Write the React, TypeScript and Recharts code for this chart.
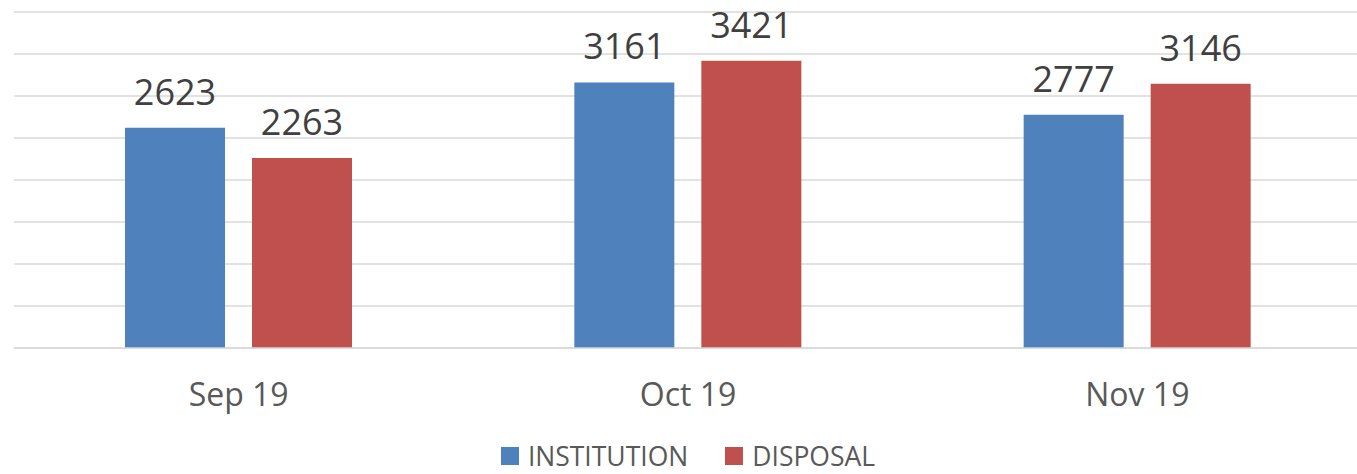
import React from 'react';
import { BarChart, Bar, XAxis, YAxis, CartesianGrid, Legend, LabelList } from 'recharts';

const months = ['Sep 19', 'Oct 19', 'Nov 19'];
const institution = [2623, 3161, 2777];
const disposal = [2263, 3421, 3146];
const yTicks = [0, 500, 1000, 1500, 2000, 2500, 3000, 3500, 4000];
const seriesOrder = ['INSTITUTION', 'DISPOSAL'];

const COLORS = { institution: '#4f81bd', disposal: '#c0504d' };
const FONT = '"Open Sans", sans-serif';

const data = months.map((month, i) => ({
  month,
  INSTITUTION: institution[i],
  DISPOSAL: disposal[i],
}));

const renderLegend = (props: any) => {
  const payload = [...(props.payload || [])].sort(
    (a: any, b: any) => seriesOrder.indexOf(a.value) - seriesOrder.indexOf(b.value)
  );
  return (
    <div style={{ display: 'flex', justifyContent: 'center', alignItems: 'center', fontFamily: FONT, marginTop: 5 }}>
      {payload.map((entry: any, index: number) => (
        <div key={`item-${index}`} style={{ display: 'flex', alignItems: 'center', marginRight: index === 0 ? 37 : 0 }}>
          <span style={{ width: 18, height: 18, background: entry.color, display: 'inline-block', marginRight: 9 }} />
          <span style={{ fontSize: 26.5, color: '#595959', lineHeight: '26px' }}>{entry.value}</span>
        </div>
      ))}
    </div>
  );
};

export default function App() {
  return (
    <div style={{ position: 'fixed', left: 0, top: 0, width: 1357, height: 474, overflow: 'hidden', background: '#fff' }}>
      <BarChart
        width={1362}
        height={474}
        data={data}
        margin={{ top: 12, right: 0, left: 14, bottom: 0 }}
        barCategoryGap={111}
        barGap={27}
      >
        <CartesianGrid vertical={false} stroke="#d9d9d9" strokeWidth={1.5} />
        <XAxis
          dataKey="month"
          axisLine={{ stroke: '#d9d9d9', strokeWidth: 1.5 }}
          tickLine={false}
          tickSize={0}
          tickMargin={35}
          height={90}
          tick={{ fill: '#595959', fontSize: 32, fontFamily: FONT }}
        />
        <YAxis hide domain={[0, 4000]} ticks={yTicks} />
        <Legend verticalAlign="bottom" content={renderLegend} height={36} />
        <Bar dataKey="INSTITUTION" fill={COLORS.institution} isAnimationActive={false}>
          <LabelList dataKey="INSTITUTION" position="top" offset={23} fill="#404040" fontSize={36} fontFamily={FONT} />
        </Bar>
        <Bar dataKey="DISPOSAL" fill={COLORS.disposal} isAnimationActive={false}>
          <LabelList dataKey="DISPOSAL" position="top" offset={23} fill="#404040" fontSize={36} fontFamily={FONT} />
        </Bar>
      </BarChart>
    </div>
  );
}
